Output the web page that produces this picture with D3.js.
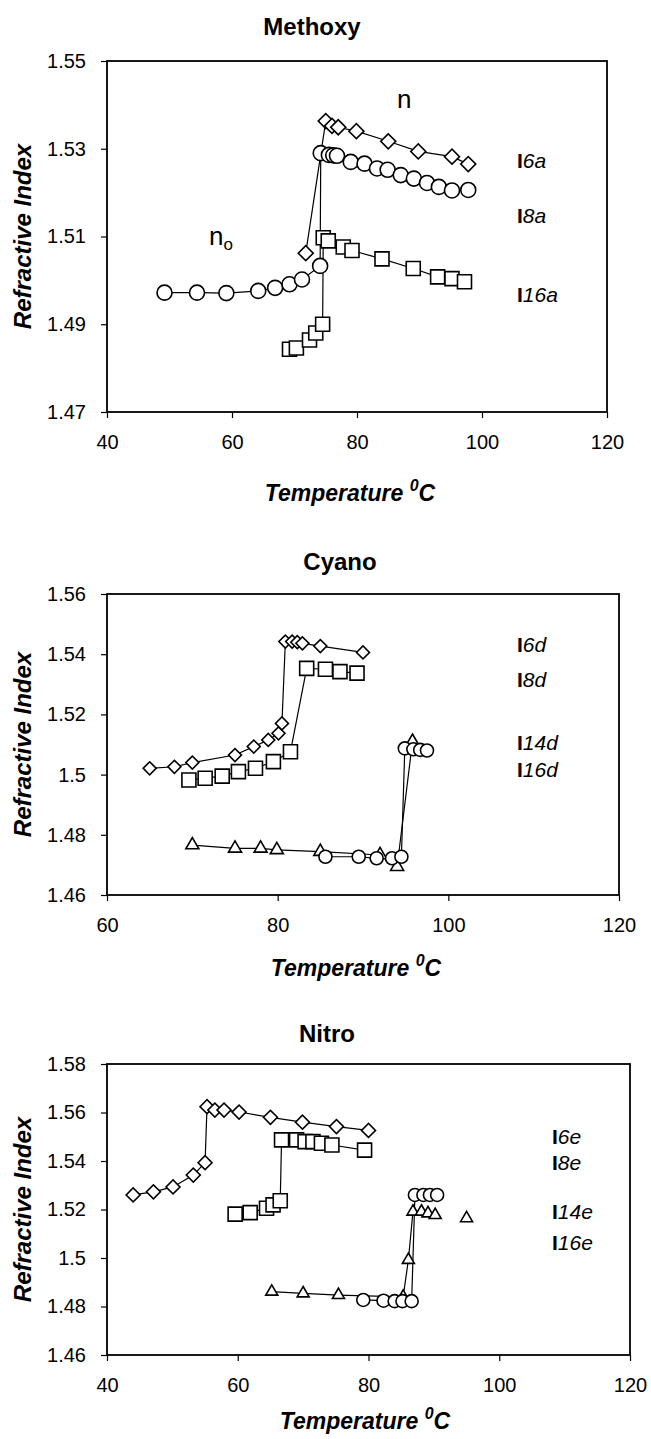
<!DOCTYPE html>
<html>
<head>
<meta charset="utf-8">
<script src="https://cdn.jsdelivr.net/npm/d3@7"></script>
<style>
body { margin: 0; background: #fff; }
text { font-family: "Liberation Sans", Arial, sans-serif; }
</style>
</head>
<body>
<div id="chart"></div>
<script>
// ---- Methoxy ----
var methoxyXTicks = [40, 60, 80, 100, 120];
var methoxyYTicks = [1.47, 1.49, 1.51, 1.53, 1.55];
var m6a = [[71.8,1.5062],[75.0,1.5363],[76.0,1.5352],[77.0,1.5349],[79.9,1.5340],[85.0,1.5317],[89.8,1.5294],[95.2,1.5282],[97.8,1.5265]];
var m8a = [[49.2,1.4972],[54.4,1.4972],[59.1,1.4971],[64.2,1.4976],[66.9,1.4983],[69.2,1.4991],[71.2,1.5002],[74.1,1.5033],
           [74.2,1.5290],[75.5,1.5286],[76.2,1.5285],[76.8,1.5284],[79.0,1.5270],[81.2,1.5266],[83.2,1.5255],[84.9,1.5252],
           [87.0,1.5240],[89.1,1.5232],[91.2,1.5222],[93.1,1.5213],[95.2,1.5205],[97.8,1.5206]];
var m16a = [[69.2,1.4843],[70.3,1.4846],[72.4,1.4864],[73.4,1.4880],[74.5,1.4900],[74.6,1.5097],[75.4,1.5090],[77.8,1.5076],
            [79.2,1.5068],[84.0,1.5049],[89.0,1.5027],[92.9,1.5008],[95.2,1.5004],[97.2,1.4997]];

// ---- Cyano ----
var cyanoXTicks = [60, 80, 100, 120];
var cyanoYTicks = [1.46, 1.48, 1.50, 1.52, 1.54, 1.56];
var c6d = [[65.0,1.5021],[67.9,1.5026],[70.0,1.5040],[75.0,1.5065],[77.2,1.5093],[78.9,1.5115],[80.1,1.5137],[80.5,1.5170],
           [80.9,1.5442],[81.7,1.5442],[82.3,1.5440],[82.9,1.5436],[85.0,1.5427],[90.0,1.5406]];
var c8d = [[69.6,1.4982],[71.5,1.4988],[73.5,1.4995],[75.4,1.5010],[77.4,1.5021],[79.5,1.5043],[81.5,1.5076],
           [83.4,1.5353],[85.6,1.5350],[87.3,1.5342],[89.3,1.5337]];
var c14d = [[70.0,1.4766],[75.0,1.4755],[78.0,1.4755],[79.9,1.4750],[85.0,1.4744],[92.0,1.4733],[94.0,1.4694],[95.8,1.5110]];
var c16d = [[85.6,1.4727],[89.5,1.4727],[91.6,1.4722],[93.4,1.4722],[94.5,1.4727],[94.9,1.5087],[95.9,1.5084],[96.7,1.5082],[97.5,1.5080]];

// ---- Nitro ----
var nitroXTicks = [40, 60, 80, 100, 120];
var nitroYTicks = [1.46, 1.48, 1.50, 1.52, 1.54, 1.56, 1.58];
var n6e = [[44.0,1.5260],[47.1,1.5273],[50.1,1.5293],[53.2,1.5342],[55.0,1.5393],[55.3,1.5624],[56.5,1.5610],[57.9,1.5610],
           [60.2,1.5602],[65.0,1.5580],[69.9,1.5560],[75.1,1.5542],[80.0,1.5526]];
var n8e = [[59.6,1.5181],[61.9,1.5187],[64.4,1.5205],[65.4,1.5219],[66.5,1.5236],[66.7,1.5487],[69.0,1.5487],[70.3,1.5480],
           [71.5,1.5480],[72.8,1.5473],[74.4,1.5466],[79.4,1.5445]];
var n14e = [[65.2,1.4861],[70.0,1.4854],[75.4,1.4847],[85.3,1.4840],[86.1,1.4992],[86.8,1.5191],[88.1,1.5191],[89.1,1.5184],[90.2,1.5177]];
var n14eExtra = [[95.0,1.5164]];
var n16e = [[79.2,1.4827],[82.3,1.4824],[84.0,1.4822],[85.2,1.4822],[86.6,1.4822],[87.1,1.5260],[88.4,1.5260],[89.4,1.5260],[90.5,1.5260]];

var W = 651, H = 1439;
var svg = d3.select("#chart").append("svg")
    .attr("width", W)
    .attr("height", H);
svg.append("rect").attr("width", W).attr("height", H).attr("fill", "#fff");

function marker(shape, s) {
    if (shape == "diamond") return d3.symbol(d3.symbolSquare, s * s / 2)();
    if (shape == "square") return d3.symbol(d3.symbolSquare, s * s)();
    if (shape == "circle") return d3.symbol(d3.symbolCircle, Math.PI * s * s / 4)();
    return d3.symbol(d3.symbolTriangle, Math.sqrt(3) / 4 * s * s)();
}

function fmt(v) { return String(+v.toFixed(2)); }

function drawPanel(p) {
    var x = d3.scaleLinear().domain(p.xDomain).range([p.left, p.right]);
    var y = d3.scaleLinear().domain(p.yDomain).range([p.bottom, p.top]);
    var g = svg.append("g");

    var xa = g.append("g")
        .attr("transform", "translate(0," + p.bottom + ")")
        .call(d3.axisBottom(x).tickValues(p.xTicks).tickSize(6).tickFormat(d3.format("d")));
    xa.selectAll(".tick text").attr("y", 37).attr("dy", null);

    var ya = g.append("g")
        .attr("transform", "translate(" + p.left + ",0)")
        .call(d3.axisLeft(y).tickValues(p.yTicks).tickSize(6).tickFormat(fmt));
    ya.selectAll(".tick text").attr("x", -21);

    g.selectAll(".tick text").attr("font-size", 20).attr("font-family", "Liberation Sans, Arial, sans-serif").attr("fill", "#000");
    g.selectAll(".tick line").attr("stroke", "#000").attr("stroke-width", 1.2);
    g.selectAll(".domain").remove();

    g.append("rect")
        .attr("x", p.left).attr("y", p.top)
        .attr("width", p.right - p.left).attr("height", p.bottom - p.top)
        .attr("fill", "none").attr("stroke", "#000").attr("stroke-width", 1.8);

    var line = d3.line().x(function(d){ return x(d[0]); }).y(function(d){ return y(d[1]); });
    p.series.forEach(function(s){
        if (s.noLine) return;
        g.append("path").attr("d", line(s.data))
            .attr("fill", "none").attr("stroke", "#000").attr("stroke-width", 1.2);
    });
    p.series.forEach(function(s){
        g.selectAll(null).data(s.data).enter().append("path")
            .attr("d", marker(s.shape, s.size))
            .attr("transform", function(d){
                return "translate(" + x(d[0]) + "," + y(d[1]) + ")" + (s.shape == "diamond" ? " rotate(45)" : "");
            })
            .attr("fill", "#fff").attr("stroke", "#000").attr("stroke-width", 1.6);
    });

    // title
    g.append("text").attr("x", p.titleX).attr("y", p.titleY)
        .attr("text-anchor", "middle").attr("font-size", 24).attr("font-weight", "bold")
        .text(p.title);

    // y axis title
    g.append("text")
        .attr("transform", "translate(31," + ((p.top + p.bottom) / 2) + ") rotate(-90)")
        .attr("text-anchor", "middle").attr("font-size", 24)
        .attr("font-weight", "bold").attr("font-style", "italic")
        .text("Refractive Index");

    // x axis title
    var xt = g.append("text").attr("x", p.xTitleX).attr("y", p.xTitleY)
        .attr("text-anchor", "middle").attr("font-size", 23)
        .attr("font-weight", "bold").attr("font-style", "italic");
    xt.append("tspan").text(p.xTitleText);
    xt.append("tspan").attr("dy", -10).attr("font-size", 16).text("0");
    xt.append("tspan").attr("dy", 10).text("C");

    // compound labels
    p.labels.forEach(function(l){
        var t = g.append("text").attr("x", l.x).attr("y", l.y).attr("font-size", 21);
        t.append("tspan").attr("font-weight", "bold").text("I");
        t.append("tspan").attr("font-style", "italic").text(l.text);
    });
    return {x: x, y: y, g: g};
}

var p1 = drawPanel({
    left: 107, right: 607, top: 61, bottom: 412,
    xDomain: [40, 120], yDomain: [1.47, 1.55],
    xTicks: methoxyXTicks, yTicks: methoxyYTicks,
    title: "Methoxy", titleX: 312, titleY: 35,
    xTitleText: "Temperature ", xTitleX: 350, xTitleY: 501,
    labels: [{x: 517, y: 168, text: "6a"}, {x: 517, y: 223, text: "8a"}, {x: 517, y: 302, text: "16a"}],
    series: [
        {data: m16a, shape: "square", size: 14},
        {data: m8a, shape: "circle", size: 15},
        {data: m6a, shape: "diamond", size: 15}
    ]
});
p1.g.append("text").attr("x", 397).attr("y", 108).attr("font-size", 26).text("n");
var no = p1.g.append("text").attr("x", 209).attr("y", 245).attr("font-size", 26);
no.append("tspan").text("n");
no.append("tspan").attr("dy", 5).attr("font-size", 17).text("o");

drawPanel({
    left: 107, right: 619, top: 594, bottom: 895,
    xDomain: [60, 120], yDomain: [1.46, 1.56],
    xTicks: cyanoXTicks, yTicks: cyanoYTicks,
    title: "Cyano", titleX: 340, titleY: 570,
    xTitleText: "Temperature ", xTitleX: 356, xTitleY: 976,
    labels: [{x: 517, y: 652, text: "6d"}, {x: 517, y: 687, text: "8d"}, {x: 517, y: 750, text: "14d"}, {x: 517, y: 777, text: "16d"}],
    series: [
        {data: c8d, shape: "square", size: 14},
        {data: c6d, shape: "diamond", size: 13},
        {data: c14d, shape: "triangle", size: 13},
        {data: c16d, shape: "circle", size: 13}
    ]
});

drawPanel({
    left: 107, right: 630, top: 1064, bottom: 1355,
    xDomain: [40, 120], yDomain: [1.46, 1.58],
    xTicks: nitroXTicks, yTicks: nitroYTicks,
    title: "Nitro", titleX: 327, titleY: 1042,
    xTitleText: "Temperature  ", xTitleX: 365, xTitleY: 1429,
    labels: [{x: 552, y: 1144, text: "6e"}, {x: 552, y: 1170, text: "8e"}, {x: 552, y: 1219, text: "14e"}, {x: 552, y: 1250, text: "16e"}],
    series: [
        {data: n8e, shape: "square", size: 14},
        {data: n6e, shape: "diamond", size: 14},
        {data: n14e, shape: "triangle", size: 12},
        {data: n14eExtra, shape: "triangle", size: 12, noLine: true},
        {data: n16e, shape: "circle", size: 13}
    ]
});
</script>
</body>
</html>
